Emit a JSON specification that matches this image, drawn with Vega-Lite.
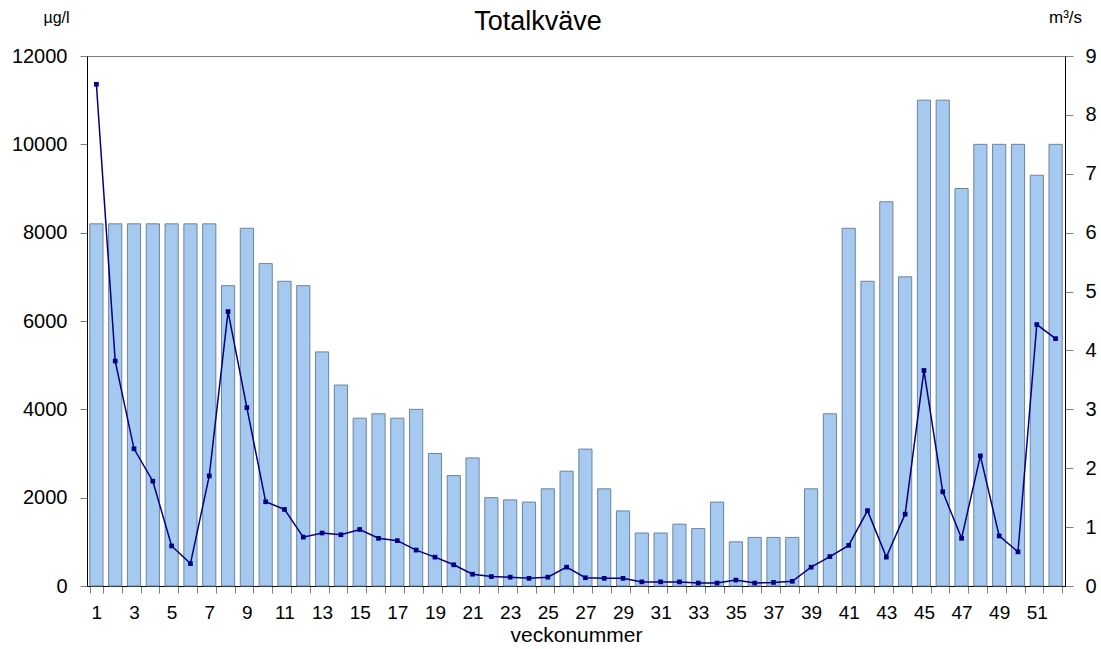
{
  "$schema": "https://vega.github.io/schema/vega-lite/v6.json",
  "width": 978,
  "height": 530,
  "autosize": "none",
  "padding": {"left": 87, "top": 56, "right": 36, "bottom": 63},
  "background": "white",
  "config": {
    "view": {"stroke": "#808080", "strokeWidth": 1},
    "font": "Liberation Sans",
    "axis": {"grid": false, "labelFont": "Liberation Sans", "titleFont": "Liberation Sans", "labelColor": "#000000", "titleColor": "#000000", "titleFontWeight": "normal"}
  },
  "title": {"text": "Totalkväve", "fontSize": 27, "font": "Liberation Sans", "fontWeight": "normal", "color": "#000000", "anchor": "middle", "dx": -38, "offset": -28},
  "data": {"values": [
    {"vecka": 1, "kvave": 8200, "flode": 8.52},
    {"vecka": 2, "kvave": 8200, "flode": 3.82},
    {"vecka": 3, "kvave": 8200, "flode": 2.33},
    {"vecka": 4, "kvave": 8200, "flode": 1.78},
    {"vecka": 5, "kvave": 8200, "flode": 0.68},
    {"vecka": 6, "kvave": 8200, "flode": 0.38},
    {"vecka": 7, "kvave": 8200, "flode": 1.87},
    {"vecka": 8, "kvave": 6800, "flode": 4.66},
    {"vecka": 9, "kvave": 8100, "flode": 3.03},
    {"vecka": 10, "kvave": 7300, "flode": 1.43},
    {"vecka": 11, "kvave": 6900, "flode": 1.30},
    {"vecka": 12, "kvave": 6800, "flode": 0.83},
    {"vecka": 13, "kvave": 5300, "flode": 0.90},
    {"vecka": 14, "kvave": 4550, "flode": 0.87},
    {"vecka": 15, "kvave": 3800, "flode": 0.96},
    {"vecka": 16, "kvave": 3900, "flode": 0.81},
    {"vecka": 17, "kvave": 3800, "flode": 0.77},
    {"vecka": 18, "kvave": 4000, "flode": 0.61},
    {"vecka": 19, "kvave": 3000, "flode": 0.49},
    {"vecka": 20, "kvave": 2500, "flode": 0.36},
    {"vecka": 21, "kvave": 2900, "flode": 0.20},
    {"vecka": 22, "kvave": 2000, "flode": 0.16},
    {"vecka": 23, "kvave": 1950, "flode": 0.15},
    {"vecka": 24, "kvave": 1900, "flode": 0.13},
    {"vecka": 25, "kvave": 2200, "flode": 0.15},
    {"vecka": 26, "kvave": 2600, "flode": 0.32},
    {"vecka": 27, "kvave": 3100, "flode": 0.14},
    {"vecka": 28, "kvave": 2200, "flode": 0.13},
    {"vecka": 29, "kvave": 1700, "flode": 0.13},
    {"vecka": 30, "kvave": 1200, "flode": 0.07},
    {"vecka": 31, "kvave": 1200, "flode": 0.07},
    {"vecka": 32, "kvave": 1400, "flode": 0.07},
    {"vecka": 33, "kvave": 1300, "flode": 0.05},
    {"vecka": 34, "kvave": 1900, "flode": 0.05},
    {"vecka": 35, "kvave": 1000, "flode": 0.10},
    {"vecka": 36, "kvave": 1100, "flode": 0.05},
    {"vecka": 37, "kvave": 1100, "flode": 0.06},
    {"vecka": 38, "kvave": 1100, "flode": 0.08},
    {"vecka": 39, "kvave": 2200, "flode": 0.32},
    {"vecka": 40, "kvave": 3900, "flode": 0.50},
    {"vecka": 41, "kvave": 8100, "flode": 0.69},
    {"vecka": 42, "kvave": 6900, "flode": 1.28},
    {"vecka": 43, "kvave": 8700, "flode": 0.49},
    {"vecka": 44, "kvave": 7000, "flode": 1.22},
    {"vecka": 45, "kvave": 11000, "flode": 3.66},
    {"vecka": 46, "kvave": 11000, "flode": 1.60},
    {"vecka": 47, "kvave": 9000, "flode": 0.81},
    {"vecka": 48, "kvave": 10000, "flode": 2.21},
    {"vecka": 49, "kvave": 10000, "flode": 0.85},
    {"vecka": 50, "kvave": 10000, "flode": 0.58},
    {"vecka": 51, "kvave": 9300, "flode": 4.44},
    {"vecka": 52, "kvave": 10000, "flode": 4.20}
  ]},
  "encoding": {
    "x": {
      "field": "vecka", "type": "ordinal",
      "scale": {"paddingInner": 0.3, "paddingOuter": 0.15},
      "axis": {
        "title": "veckonummer", "titleFontSize": 21, "titlePadding": 2,
        "labelFontSize": 19, "labelAngle": 0, "labelPadding": 10,
        "labelExpr": "datum.value % 2 == 1 ? datum.label : ''",
        "tickBand": "extent", "tickSize": 7, "tickColor": "#808080",
        "domainColor": "#000000", "labelFlush": false
      }
    }
  },
  "layer": [
    {
      "mark": {"type": "bar", "fill": "#a6c9ef", "stroke": "#6b84a0", "strokeWidth": 1},
      "encoding": {
        "y": {
          "field": "kvave", "type": "quantitative",
          "scale": {"domain": [0, 12000], "nice": false},
          "axis": {
            "title": "µg/l", "titleAngle": 0, "titleX": -31, "titleY": -34, "titleAlign": "center", "titleBaseline": "alphabetic", "titleFontSize": 16,
            "values": [0, 2000, 4000, 6000, 8000, 10000, 12000], "format": "d",
            "labelFontSize": 20, "labelPadding": 13, "tickSize": 7, "tickColor": "#808080", "domainColor": "#000000"
          }
        }
      }
    },
    {
      "mark": {"type": "line", "color": "#000080", "strokeWidth": 1.5, "point": {"shape": "square", "size": 22, "filled": true, "color": "#000080"}},
      "encoding": {
        "y": {
          "field": "flode", "type": "quantitative",
          "scale": {"domain": [0, 9], "nice": false},
          "axis": {
            "orient": "right",
            "title": "m³/s", "titleAngle": 0, "titleX": 0, "titleY": -34, "titleAlign": "center", "titleBaseline": "alphabetic", "titleFontSize": 17,
            "values": [0, 1, 2, 3, 4, 5, 6, 7, 8, 9],
            "labelFontSize": 20, "labelPadding": 12, "tickSize": 8, "tickColor": "#808080", "domainColor": "#000000"
          }
        }
      }
    }
  ],
  "resolve": {"scale": {"y": "independent"}}
}
